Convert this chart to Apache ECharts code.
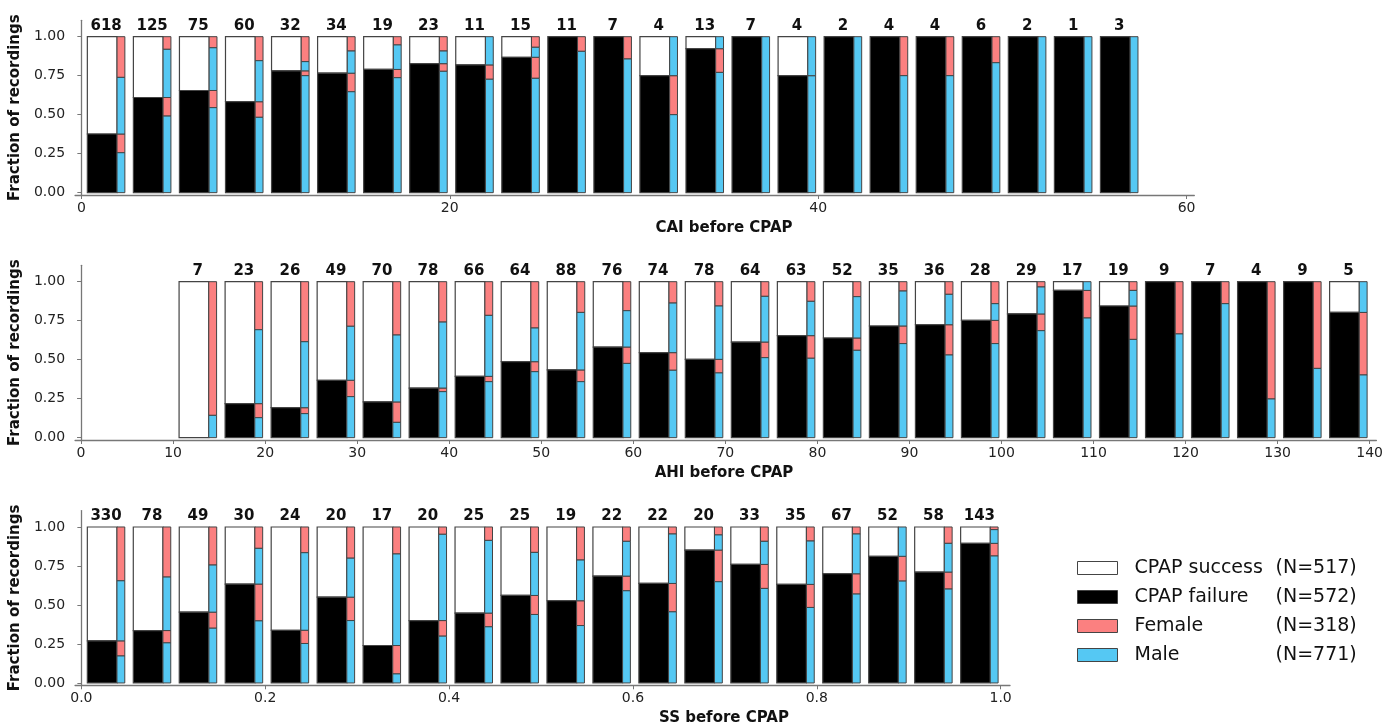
<!DOCTYPE html>
<html>
<head>
<meta charset="utf-8">
<script src="https://cdn.jsdelivr.net/npm/echarts@6/dist/echarts.min.js"></script>
<style>
html,body{margin:0;padding:0;background:#fff;}
#chart{width:1386px;height:726px;}
</style>
</head>
<body>
<div id="chart"></div>
<script>
// ---------- DATA ----------
// CAI panel: bins of width 2.5 starting at 0
const caiBinStart = 0;
const caiBinWidth = 2.5;
const caiCounts = [618,125,75,60,32,34,19,23,11,15,11,7,4,13,7,4,2,4,4,6,2,1,3];
const caiFail = [0.376,0.610,0.655,0.583,0.781,0.766,0.790,0.827,0.819,0.868,1,1,0.75,0.923,1,0.75,1,1,1,1,1,1,1];
const caiFailMaleTop = [0.256,0.491,0.545,0.483,0.75,0.647,0.737,0.778,0.727,0.733,0.906,0.857,0.5,0.771,1,0.75,1,0.75,0.75,0.833,1,1,1];
const caiSuccMaleTop = [0.739,0.919,0.929,0.846,0.84,0.908,0.947,0.908,1,0.932,1,1,1,1,1,1,1,1,1,1,1,1,1];
const caiTicks = [0,20,40,60];

// AHI panel: bins of width 5 starting at 10
const ahiBinStart = 10;
const ahiBinWidth = 5;
const ahiCounts = [7,23,26,49,70,78,66,64,88,76,74,78,64,63,52,35,36,28,29,17,19,9,7,4,9,5];
const ahiFail = [0,0.218,0.192,0.368,0.229,0.318,0.393,0.487,0.434,0.581,0.545,0.502,0.613,0.654,0.639,0.716,0.724,0.752,0.793,0.944,0.844,1,1,1,1,0.803];
const ahiFailMaleTop = [0,0.128,0.154,0.263,0.098,0.295,0.359,0.423,0.359,0.476,0.432,0.415,0.513,0.509,0.560,0.603,0.530,0.603,0.686,0.767,0.630,0.665,0.859,0.248,0.444,0.402];
const ahiSuccMaleTop = [0.143,0.692,0.615,0.714,0.658,0.741,0.784,0.703,0.803,0.814,0.863,0.844,0.906,0.874,0.904,0.940,0.919,0.859,0.966,1,0.944,1,1,1,1,1];
const ahiTicks = [0,10,20,30,40,50,60,70,80,90,100,110,120,130,140];

// SS panel: bins of width 0.05 starting at 0
const ssBinStart = 0;
const ssBinWidth = 0.05;
const ssCounts = [330,78,49,30,24,20,17,20,25,25,19,22,22,20,33,35,67,52,58,143];
const ssFail = [0.270,0.336,0.454,0.634,0.338,0.550,0.240,0.400,0.448,0.561,0.527,0.685,0.638,0.852,0.760,0.632,0.700,0.812,0.711,0.895];
const ssFailMaleTop = [0.173,0.257,0.351,0.398,0.253,0.400,0.058,0.300,0.360,0.439,0.368,0.591,0.456,0.649,0.606,0.484,0.570,0.653,0.602,0.814];
const ssSuccMaleTop = [0.655,0.679,0.756,0.863,0.835,0.800,0.827,0.953,0.914,0.837,0.788,0.908,0.955,0.949,0.908,0.910,0.955,1,0.895,0.983];
const ssTicks = [0,0.2,0.4,0.6,0.8,1.0];

const yTicks = [0,0.25,0.5,0.75,1.0];
const legendNames = ['CPAP success','CPAP failure','Female','Male'];
const legendCounts = [517,572,318,771];
const xAxisNames = ['CAI before CPAP','AHI before CPAP','SS before CPAP'];
const yAxisName = 'Fraction of recordings';

// ---------- STYLE ----------
const FONT = 'DejaVu Sans';
const COLORS = {
  'CPAP success': '#ffffff',
  'CPAP failure': '#000000',
  'Female': '#fb8080',
  'Male': '#55c8f3'
};
const EDGE = '#444';

function buildData(start, width, counts, fail, fmTop, smTop) {
  return counts.map((n, i) => [start + i * width, start + (i + 1) * width, fail[i], fmTop[i], smTop[i], n]);
}

const panels = [
  {data: buildData(caiBinStart, caiBinWidth, caiCounts, caiFail, caiFailMaleTop, caiSuccMaleTop),
   min: -0.341, max: 60.42, ticks: caiTicks, fmt: v => String(v), left: 72.7, width: 1121.6, top: 20.3},
  {data: buildData(ahiBinStart, ahiBinWidth, ahiCounts, ahiFail, ahiFailMaleTop, ahiSuccMaleTop),
   min: -0.65, max: 140.73, ticks: ahiTicks, fmt: v => String(v), left: 72.7, width: 1305, top: 265.3},
  {data: buildData(ssBinStart, ssBinWidth, ssCounts, ssFail, ssFailMaleTop, ssSuccMaleTop),
   min: -0.00684, max: 1.0102, ticks: ssTicks, fmt: v => v.toFixed(1), left: 72.7, width: 937.3, top: 510.6}
];
const GRID_H = 174.7;

function geom(api) {
  const a = api.value(0), b = api.value(1);
  const pa = api.coord([a, 0]), pb = api.coord([b, 0]);
  const w = pb[0] - pa[0];
  return {
    mainL: pa[0] + 0.13 * w,
    mainR: pa[0] + 0.775 * w,
    stripR: pa[0] + 0.945 * w
  };
}
function yPix(api, v) { return api.coord([api.value(0), v])[1]; }
function rect(x1, x2, ya, yb, fill, lw) {
  const top = Math.min(ya, yb), h = Math.abs(yb - ya);
  return {type: 'rect', shape: {x: x1, y: top, width: x2 - x1, height: h},
          style: {fill: fill, stroke: EDGE, lineWidth: lw}};
}

function makeRender(kind) {
  return function (params, api) {
    const g = geom(api);
    const fail = api.value(2), fm = api.value(3), sm = api.value(4);
    const y0 = yPix(api, 0), y1 = yPix(api, 1), yf = yPix(api, fail);
    const yfm = yPix(api, fm), ysm = yPix(api, sm);
    const ch = [];
    if (kind === 'CPAP success' && fail < 1) ch.push(rect(g.mainL, g.mainR, yf, y1, COLORS[kind], 1.2));
    if (kind === 'CPAP failure' && fail > 0) ch.push(rect(g.mainL, g.mainR, y0, yf, COLORS[kind], 1.2));
    if (kind === 'Male') {
      if (fm > 0) ch.push(rect(g.mainR, g.stripR, y0, yfm, COLORS.Male, 1));
      if (sm > fail) ch.push(rect(g.mainR, g.stripR, yf, ysm, COLORS.Male, 1));
    }
    if (kind === 'Female') {
      if (fail > fm) ch.push(rect(g.mainR, g.stripR, yfm, yf, COLORS.Female, 1));
      if (1 > sm) ch.push(rect(g.mainR, g.stripR, ysm, y1, COLORS.Female, 1));
    }
    if (kind === 'label') {
      ch.push({type: 'text', style: {text: String(api.value(5)), x: (g.mainL + g.stripR) / 2, y: y1 - 11,
        align: 'center', verticalAlign: 'middle', fill: '#111', font: 'bold 15px "' + FONT + '"'}});
    }
    return {type: 'group', children: ch};
  };
}

const grid = [], xAxis = [], yAxis = [], series = [];
panels.forEach((p, i) => {
  grid.push({left: p.left, top: p.top, width: p.width, height: GRID_H, containLabel: false});
  xAxis.push({
    type: 'value', gridIndex: i, min: p.min, max: p.max,
    axisLine: {show: true, onZero: false, lineStyle: {color: '#777', width: 1.3}},
    axisTick: {show: true, length: 4, customValues: p.ticks, lineStyle: {color: '#777'}},
    axisLabel: {show: true, customValues: p.ticks, formatter: p.fmt, margin: 6,
      color: '#222', fontSize: 14, fontFamily: FONT},
    splitLine: {show: false}
  });
  yAxis.push({
    type: 'value', gridIndex: i, min: -0.015, max: 1.105,
    name: yAxisName, nameLocation: 'middle', nameGap: 47,
    nameTextStyle: {fontFamily: FONT, fontWeight: 'bold', fontSize: 15, color: '#111'},
    axisLine: {show: true, lineStyle: {color: '#777', width: 1.3}},
    axisTick: {show: true, length: 4, customValues: yTicks, lineStyle: {color: '#777'}},
    axisLabel: {show: true, customValues: yTicks, formatter: v => v.toFixed(2), margin: 10,
      color: '#222', fontSize: 14, fontFamily: FONT},
    splitLine: {show: false}
  });
  ['CPAP success', 'CPAP failure', 'Female', 'Male', 'label'].forEach(kind => {
    const s = {
      type: 'custom', xAxisIndex: i, yAxisIndex: i, data: p.data,
      renderItem: makeRender(kind), encode: {x: [0, 1], y: [2]}, clip: false, silent: true
    };
    if (kind !== 'label') {
      s.name = kind;
      s.itemStyle = {color: COLORS[kind], borderColor: EDGE, borderWidth: 1};
    }
    series.push(s);
  });
});

const graphic = xAxisNames.map((nm, i) => ({
  type: 'text',
  style: {text: nm, x: 724, y: panels[i].top + GRID_H + 33, align: 'center', verticalAlign: 'middle',
    fill: '#111', font: 'bold 15px "' + FONT + '"'}
}));

const option = {
  animation: false,
  backgroundColor: '#ffffff',
  grid: grid, xAxis: xAxis, yAxis: yAxis, series: series,
  graphic: graphic,
  legend: {
    orient: 'vertical', left: 1077, top: 558.5, padding: 0,
    itemWidth: 40, itemHeight: 13, itemGap: 10,
    selectedMode: false,
    data: legendNames.map(n => ({name: n, icon: 'rect',
      itemStyle: {color: COLORS[n], borderColor: EDGE, borderWidth: 1}})),
    formatter: function (name) {
      const k = legendNames.indexOf(name);
      return '{n|' + name + '}{c|(N=' + legendCounts[k] + ')}';
    },
    textStyle: {
      fontFamily: FONT, fontSize: 19, color: '#111', padding: [0, 0, 0, 12],
      rich: {
        n: {width: 141, fontFamily: FONT, fontSize: 19, color: '#111'},
        c: {fontFamily: FONT, fontSize: 19, color: '#111'}
      }
    }
  }
};

const chart = echarts.init(document.getElementById('chart'), null, {renderer: 'canvas'});
chart.setOption(option);
</script>
</body>
</html>
